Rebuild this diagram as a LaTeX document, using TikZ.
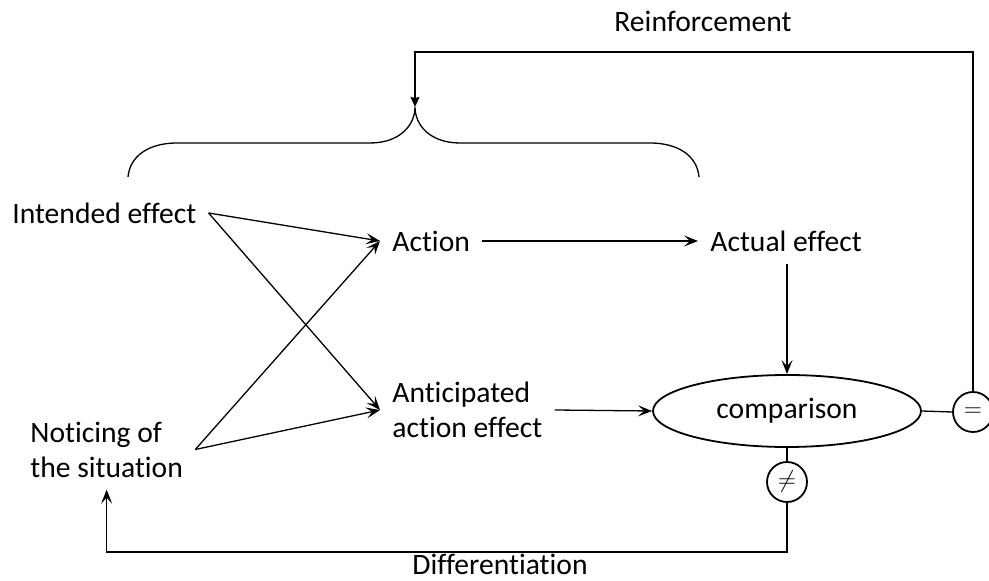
\documentclass[tikz,border=0pt]{standalone}
\usepackage{fontspec}
\setmainfont{Carlito}[Ligatures={NoCommon}]
\usetikzlibrary{arrows.meta,shapes.geometric}
\begin{document}
\begin{tikzpicture}[x=0.5pt,y=-0.5pt,
  txt/.style={inner sep=6pt,font=\fontsize{14.8}{17.5}\selectfont},
  conn/.style={line width=0.65pt},
  arr/.style={conn,-{Stealth[length=7pt,width=5.5pt,inset=3pt]}},
  ring/.style={circle,draw,line width=0.9pt,minimum size=20pt,inner sep=0pt,font=\fontsize{12}{14}\selectfont}]
 \useasboundingbox (0,0) rectangle (989,581);
 % labels
 \node[txt,anchor=west] (intended) at (0,213) {Intended effect};
 \node[txt,anchor=west] (action) at (380,241) {Action};
 \node[txt,anchor=west] (actual) at (698,241) {Actual effect};
 \node[txt,anchor=west,align=left] (anticipated) at (380,410) {Anticipated\\action effect};
 \node[txt,anchor=west,align=left] (noticing) at (18,449.5) {Noticing of\\the situation};
 \node[txt] (reinf) at (703,21) {Reinforcement};
 \node[txt,inner sep=1pt] (diff) at (500,564) {Differentiation};
 % comparison and outcomes
 \node[txt,ellipse,draw,line width=0.9pt,inner sep=0pt,minimum width=134pt,minimum height=36pt] (cmp) at (787,411) {comparison};
 \node[ring] (eq) at (973,412) {$=$};
 \node[ring] (neq) at (787,482) {$\neq$};
 \coordinate (tip) at (415,107);
 \coordinate (ytop) at (0,52);
 \coordinate (ybot) at (0,552);
 % the brace
 \draw[conn] (128,177) .. controls (130,155) and (150,143) .. (177,143) -- (370,143)
   .. controls (400,143) and (415,125) .. (tip)
   .. controls (415,125) and (430,143) .. (460,143) -- (650,143)
   .. controls (677,143) and (697,155) .. (699,177);
 % arrows
 \draw[arr] (intended.east) -- (action.west);
 \draw[arr] (intended.east) -- (anticipated.west);
 \draw[arr] (noticing.east) -- (action.west);
 \draw[arr] (noticing.east) -- (anticipated.west);
 \draw[arr] (action.east) -- (actual.west);
 \draw[arr] (actual.south -| cmp.north) -- (cmp.north);
 \draw[arr] (anticipated.east) -- (cmp.west);
 \draw[conn] (cmp.east) -- (eq.west);
 \draw[conn] (cmp.south) -- (neq.north);
 \draw[conn,-{Stealth[length=5pt,width=4.5pt,inset=0.5pt]}] (eq.north) |- (ytop -| tip) -- (tip);
 \draw[arr] (neq.south) |- (ybot -| noticing.south) -- (noticing.south);
\end{tikzpicture}
\end{document}
